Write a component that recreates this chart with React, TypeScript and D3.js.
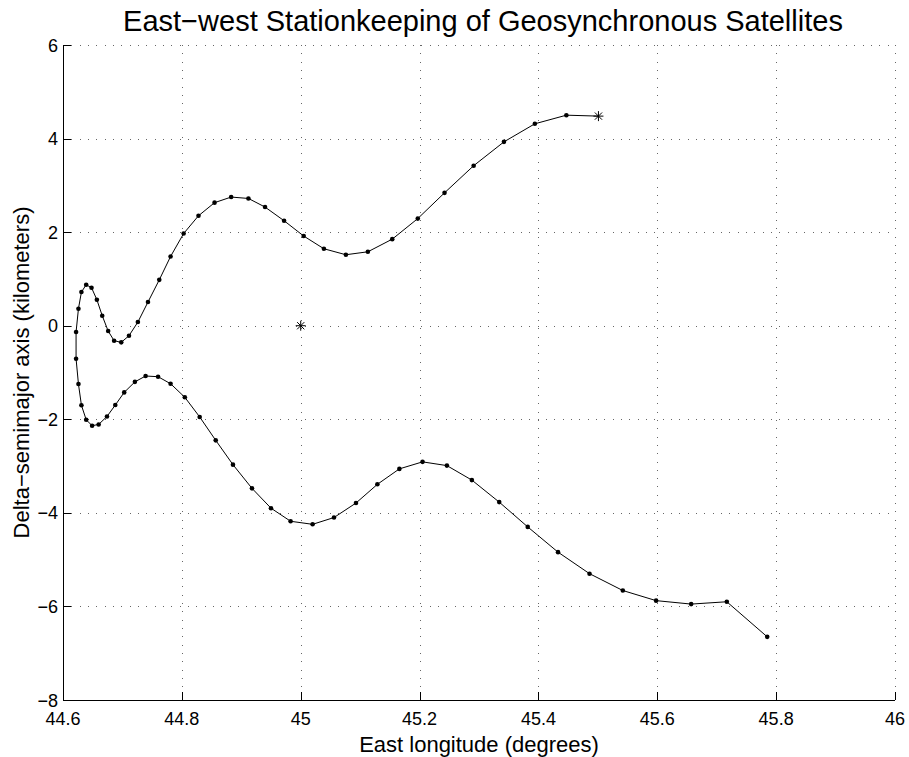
import React, { useEffect, useRef } from "react";
import * as d3 from "d3";

// trajectory, east longitude (deg) and delta semimajor axis (km)
const lon = [
  45.501, 45.447, 45.394, 45.342, 45.291, 45.242, 45.197, 45.154, 45.113, 45.076,
  45.039, 45.005, 44.972, 44.94, 44.912, 44.883, 44.855, 44.828, 44.803, 44.781,
  44.762, 44.743, 44.726, 44.711, 44.698, 44.686, 44.676, 44.666, 44.657, 44.648,
  44.639, 44.631, 44.626, 44.622, 44.622, 44.626, 44.631, 44.639, 44.649, 44.66,
  44.674, 44.688, 44.703, 44.721, 44.739, 44.76, 44.781, 44.805, 44.83, 44.857,
  44.886, 44.918, 44.95, 44.983, 45.02, 45.056, 45.093, 45.129, 45.166, 45.205,
  45.246, 45.288, 45.334, 45.382, 45.433, 45.486, 45.542, 45.598, 45.657, 45.717,
  45.785,
];
const dsma = [
  4.48, 4.5, 4.316, 3.93, 3.42, 2.84, 2.29, 1.85, 1.58, 1.517,
  1.645, 1.917, 2.244, 2.536, 2.72, 2.75, 2.63, 2.35, 1.97, 1.48,
  0.98, 0.506, 0.078, -0.214, -0.356, -0.32, -0.114, 0.214, 0.556, 0.812,
  0.876, 0.72, 0.363, -0.135, -0.705, -1.246, -1.7, -2.01, -2.137, -2.11,
  -1.94, -1.695, -1.425, -1.2, -1.075, -1.09, -1.24, -1.53, -1.95, -2.45,
  -2.97, -3.476, -3.9, -4.18, -4.245, -4.1, -3.79, -3.39, -3.06, -2.91,
  -2.99, -3.3, -3.77, -4.3, -4.84, -5.3, -5.66, -5.876, -5.95, -5.9,
  -6.65,
];
// station location
const station = [45, 0];

const xTicks = [44.6, 44.8, 45, 45.2, 45.4, 45.6, 45.8, 46];
const yTicks = [-8, -6, -4, -2, 0, 2, 4, 6];

const fmt = (v: number) => String(v).replace("-", "\u2212");

const App = () => {
  const svgRef = useRef<SVGSVGElement>(null);

  useEffect(() => {
    const width = 909;
    const height = 757;
    const m = { left: 63, right: 14, top: 45, bottom: 57 };

    const x = d3.scaleLinear().domain([44.6, 46]).range([m.left, width - m.right]);
    const y = d3.scaleLinear().domain([-8, 6]).range([height - m.bottom, m.top]);

    const svg = d3.select(svgRef.current);
    svg.selectAll("*").remove();
    svg.append("rect").attr("width", width).attr("height", height).attr("fill", "#fff");

    const font = "'Liberation Sans', Arial, Helvetica, sans-serif";

    // grid
    const grid = svg.append("g").attr("stroke", "#666").attr("stroke-width", 1)
      .attr("stroke-dasharray", "1 7.33").attr("shape-rendering", "crispEdges");
    grid.selectAll("line.v").data(xTicks.slice(1)).enter().append("line")
      .attr("x1", (d) => Math.round(x(d)) + 0.5).attr("x2", (d) => Math.round(x(d)) + 0.5)
      .attr("y1", y(6)).attr("y2", y(-8));
    grid.selectAll("line.h").data(yTicks.slice(1)).enter().append("line")
      .attr("y1", (d) => Math.round(y(d)) + 0.5).attr("y2", (d) => Math.round(y(d)) + 0.5)
      .attr("x1", x(44.6)).attr("x2", x(46));

    // axes lines + inward ticks
    const ax = svg.append("g").attr("stroke", "#000").attr("stroke-width", 1)
      .attr("shape-rendering", "crispEdges");
    ax.append("line").attr("x1", x(44.6) + 0.5).attr("x2", x(44.6) + 0.5)
      .attr("y1", y(6)).attr("y2", y(-8));
    ax.append("line").attr("x1", x(44.6)).attr("x2", x(46))
      .attr("y1", y(-8) + 0.5).attr("y2", y(-8) + 0.5);
    ax.selectAll("line.xt").data(xTicks).enter().append("line")
      .attr("x1", (d) => Math.round(x(d)) + 0.5).attr("x2", (d) => Math.round(x(d)) + 0.5)
      .attr("y1", y(-8)).attr("y2", y(-8) - 8);
    ax.selectAll("line.yt").data(yTicks).enter().append("line")
      .attr("y1", (d) => Math.round(y(d)) + 0.5).attr("y2", (d) => Math.round(y(d)) + 0.5)
      .attr("x1", x(44.6)).attr("x2", x(44.6) + 8);

    // tick labels
    svg.append("g").selectAll("text").data(xTicks).enter().append("text")
      .attr("x", (d) => x(d)).attr("y", y(-8) + 25)
      .attr("text-anchor", "middle").attr("font-family", font).attr("font-size", 18)
      .text((d) => fmt(d));
    svg.append("g").selectAll("text").data(yTicks).enter().append("text")
      .attr("x", x(44.6) - 5).attr("y", (d) => y(d) + 6.5)
      .attr("text-anchor", "end").attr("font-family", font).attr("font-size", 18)
      .text((d) => fmt(d));

    // trajectory
    const pts = lon.map((d, i) => [d, dsma[i]] as [number, number]);
    const line = d3.line<[number, number]>().x((d) => x(d[0])).y((d) => y(d[1]));
    svg.append("path").datum(pts).attr("d", line).attr("fill", "none")
      .attr("stroke", "#000").attr("stroke-width", 1);
    svg.append("g").selectAll("circle").data(pts.slice(1)).enter().append("circle")
      .attr("cx", (d) => x(d[0])).attr("cy", (d) => y(d[1])).attr("r", 2.3).attr("fill", "#000");

    // asterisks: start point and station
    const star = (cx: number, cy: number) => {
      const g = svg.append("g").attr("stroke", "#000").attr("stroke-width", 1);
      const r = 5;
      const d = r * 0.72;
      g.append("line").attr("x1", cx - r).attr("x2", cx + r).attr("y1", cy).attr("y2", cy);
      g.append("line").attr("x1", cx).attr("x2", cx).attr("y1", cy - r).attr("y2", cy + r);
      g.append("line").attr("x1", cx - d).attr("x2", cx + d).attr("y1", cy - d).attr("y2", cy + d);
      g.append("line").attr("x1", cx - d).attr("x2", cx + d).attr("y1", cy + d).attr("y2", cy - d);
    };
    star(x(lon[0]), y(dsma[0]));
    star(x(station[0]), y(station[1]));

    // titles
    svg.append("text").attr("x", (x(44.6) + x(46)) / 2 + 4).attr("y", 31)
      .attr("text-anchor", "middle").attr("font-family", font).attr("font-size", 29)
      .text("East\u2212west Stationkeeping of Geosynchronous Satellites");
    svg.append("text").attr("x", (x(44.6) + x(46)) / 2).attr("y", 752)
      .attr("text-anchor", "middle").attr("font-family", font).attr("font-size", 22)
      .text("East longitude (degrees)");
    svg.append("text")
      .attr("transform", `translate(29, ${(y(6) + y(-8)) / 2}) rotate(-90)`)
      .attr("text-anchor", "middle").attr("font-family", font).attr("font-size", 22)
      .text("Delta\u2212semimajor axis (kilometers)");
  }, []);

  return (
    <svg
      ref={svgRef}
      width={909}
      height={757}
      style={{ position: "absolute", left: 0, top: 0, display: "block" }}
    ></svg>
  );
};

export default App;
